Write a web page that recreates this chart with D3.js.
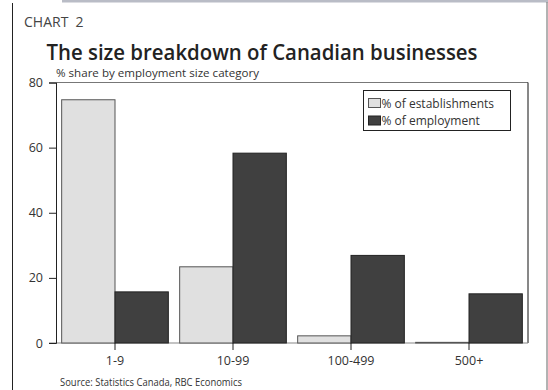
<!DOCTYPE html>
<html>
<head>
<meta charset="utf-8">
<script src="https://cdn.jsdelivr.net/npm/d3@7"></script>
<style>
  html, body { margin: 0; padding: 0; background: #fff; }
  svg { display: block; }
  text { font-family: "Open Sans", "DejaVu Sans", sans-serif; fill: #333; }
</style>
</head>
<body>
<svg id="chart" width="548" height="390"></svg>
<script>
// Share of Canadian businesses by employment size category
const categories = ["1-9", "10-99", "100-499", "500+"];
const establishments = [74.7, 23.4, 2.2, 0.2];
const employment = [15.7, 58.3, 26.9, 15.1];
const seriesNames = ["% of establishments", "% of employment"];
const yTicks = [0, 20, 40, 60, 80];

const seriesValues = [establishments, employment];
const fills = ["#e0e0e0", "#404040"];
const strokes = ["#555", "#222"];
const fontFamily = "Open Sans, DejaVu Sans, sans-serif";

const svg = d3.select("#chart");

// page frame
svg.append("rect").attr("x", 62).attr("y", 0).attr("width", 486).attr("height", 2.5).attr("fill", "#b9bcc6");
svg.append("line").attr("x1", 12.5).attr("x2", 12.5).attr("y1", 3).attr("y2", 390).attr("stroke", "#222");
svg.append("line").attr("x1", 547).attr("x2", 547).attr("y1", 2).attr("y2", 390).attr("stroke", "#666");

// headings
svg.append("text").attr("x", 24).attr("y", 26.5).attr("font-size", 14).style("fill", "#444")
  .attr("xml:space", "preserve").text("CHART  2");
svg.append("text").attr("x", 46.5).attr("y", 59.5).attr("font-size", 22).attr("font-weight", 600)
  .style("fill", "#222").attr("textLength", 431).attr("lengthAdjust", "spacingAndGlyphs")
  .text("The size breakdown of Canadian businesses");
svg.append("text").attr("x", 56).attr("y", 77).attr("font-size", 11.5)
  .attr("textLength", 203).attr("lengthAdjust", "spacingAndGlyphs")
  .text("% share by employment size category");
svg.append("text").attr("x", 60).attr("y", 385.5).attr("font-size", 10)
  .attr("textLength", 182).attr("lengthAdjust", "spacingAndGlyphs")
  .text("Source: Statistics Canada, RBC Economics");

// scales
const plotLeft = 56, plotRight = 528, plotTop = 82.5, plotBottom = 343;
const x = d3.scaleBand().domain(categories).range([plotLeft, plotRight]).paddingInner(0.096).paddingOuter(0.048);
const xs = d3.scaleBand().domain(d3.range(seriesValues.length)).range([0, x.bandwidth()]);
const y = d3.scaleLinear().domain([0, 80]).range([plotBottom, plotTop]);

// plot frame (top and right edges)
svg.append("line").attr("x1", plotLeft).attr("x2", plotRight).attr("y1", plotTop).attr("y2", plotTop).attr("stroke", "#777");
svg.append("line").attr("x1", plotRight).attr("x2", plotRight).attr("y1", plotTop).attr("y2", plotBottom).attr("stroke", "#111");

// x axis baseline
svg.append("line").attr("x1", plotLeft - 7).attr("x2", plotRight).attr("y1", plotBottom).attr("y2", plotBottom).attr("stroke", "#888").attr("stroke-width", 1.2);

// bars
seriesValues.forEach((vals, s) => {
  svg.append("g").selectAll("rect").data(categories).join("rect")
    .attr("x", (d) => x(d) + xs(s))
    .attr("y", (d, i) => y(vals[i]))
    .attr("width", xs.bandwidth())
    .attr("height", (d, i) => plotBottom - y(vals[i]))
    .attr("fill", fills[s])
    .attr("stroke", strokes[s])
    .attr("stroke-width", 1);
});

// y axis
const yAxis = svg.append("g").attr("transform", `translate(${plotLeft},0)`)
  .call(d3.axisLeft(y).tickValues(yTicks).tickSize(7).tickPadding(6));
yAxis.select(".domain").attr("stroke", "#222");
yAxis.selectAll(".tick line").attr("stroke", "#222");
yAxis.selectAll(".tick text").attr("font-size", 12.5).style("fill", "#333").attr("font-family", fontFamily);

// x axis ticks and labels
const xAxis = svg.append("g").attr("transform", `translate(0,${plotBottom})`)
  .call(d3.axisBottom(x).tickSize(7).tickPadding(6));
xAxis.select(".domain").remove();
xAxis.selectAll(".tick line").attr("stroke", "#222");
xAxis.selectAll(".tick text").attr("font-size", 12.5).style("fill", "#333").attr("font-family", fontFamily);

// legend
const lg = svg.append("g");
lg.append("rect").attr("x", 363.5).attr("y", 90.5).attr("width", 147).attr("height", 40)
  .attr("fill", "#fff").attr("stroke", "#222");
seriesNames.forEach((name, s) => {
  const cy = 103 + s * 17.5;
  lg.append("rect").attr("x", 368.5).attr("y", cy - 4.5).attr("width", 12).attr("height", 9)
    .attr("fill", fills[s]).attr("stroke", strokes[s]);
  lg.append("text").attr("x", 381.5).attr("y", cy + 4.5).attr("font-size", 12).text(name);
});
</script>
</body>
</html>
